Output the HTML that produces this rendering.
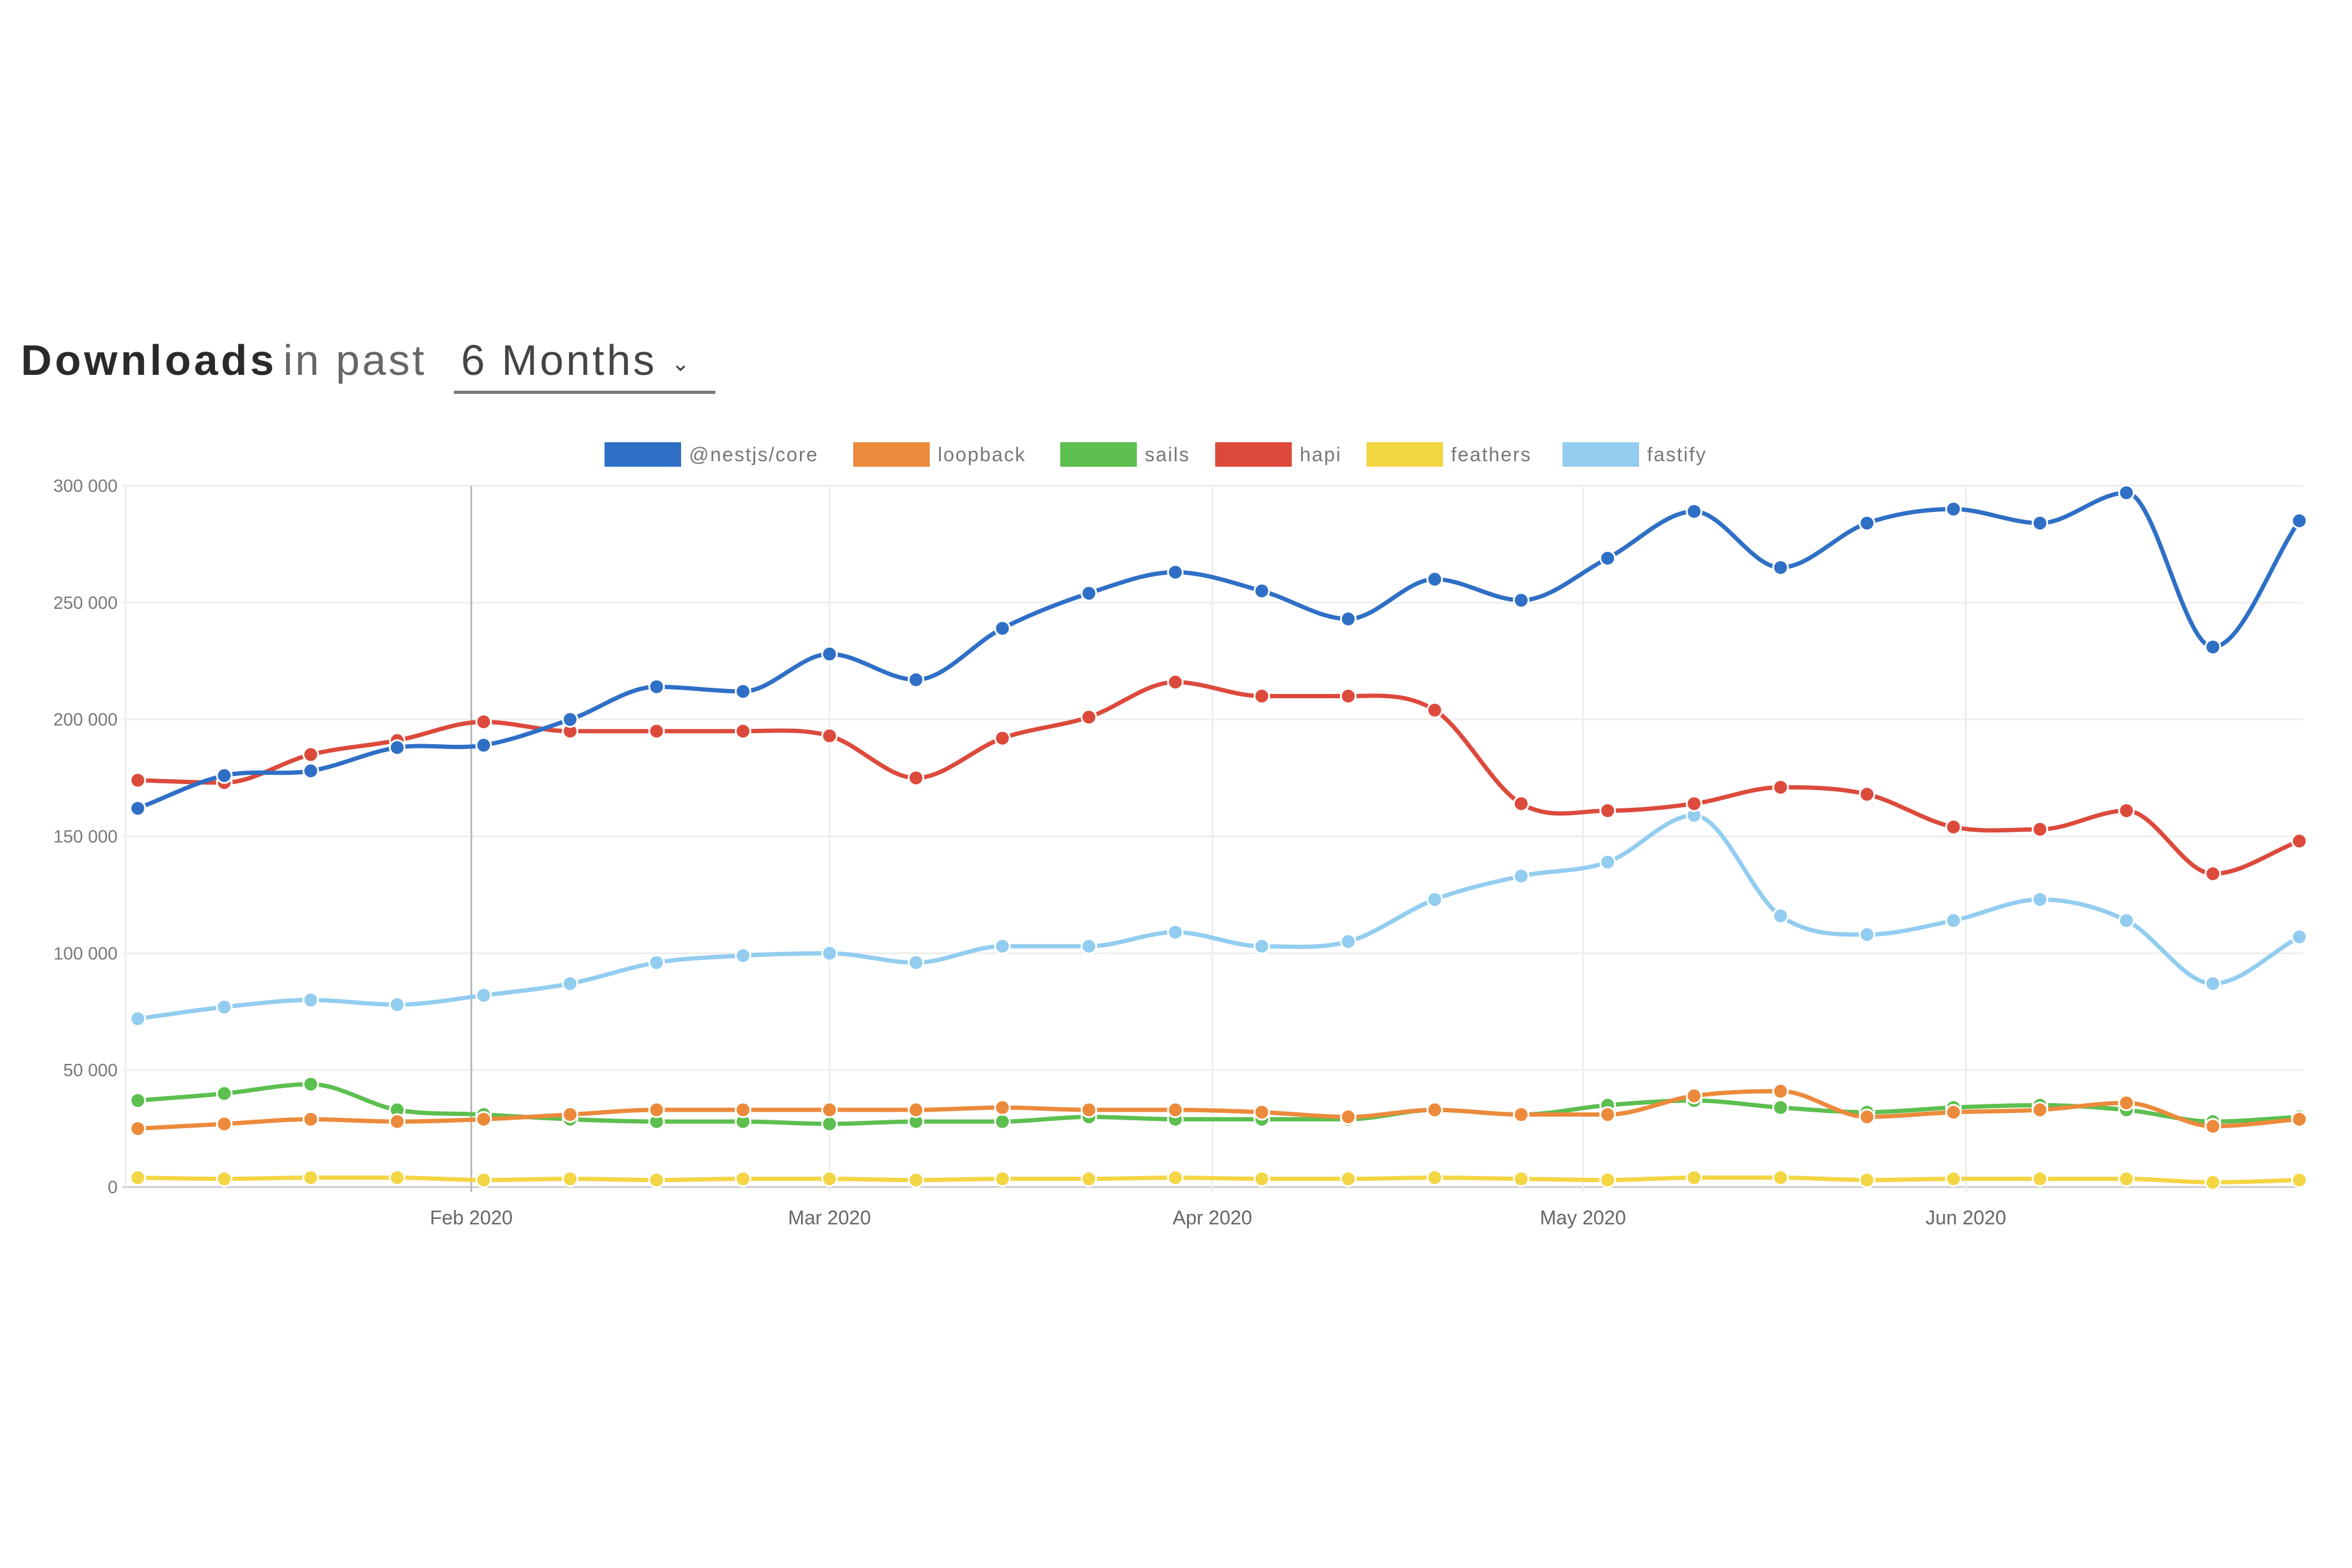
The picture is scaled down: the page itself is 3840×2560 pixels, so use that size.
<!DOCTYPE html>
<html><head><meta charset="utf-8">
<style>
html,body{margin:0;padding:0;background:#fff;}
body{width:3840px;height:2560px;overflow:hidden;position:relative;font-family:"Liberation Sans",sans-serif;}
#title{position:absolute;left:34px;top:548px;font-size:70px;color:#2a2a2a;white-space:nowrap;letter-spacing:4px;}
#title b{font-weight:bold;letter-spacing:5px;}
#title .lt{color:#666;margin-left:10px;}
#period{display:inline-block;margin-left:44px;padding:0 38px 10px 12px;border-bottom:5px solid #777;color:#444;}
svg{position:absolute;left:0;top:0;}
</style></head>
<body>
<div id="title"><b>Downloads</b><span class="lt">in past</span><span id="period">6 Months <span style="font-size:36px;vertical-align:middle">&#8964;</span></span></div>
<svg id="chart" width="3840" height="2560"></svg>
<script>
const seriesNames=["@nestjs/core","loopback","sails","hapi","feathers","fastify"];
const seriesColors=["#2f6fc6","#ec8a3c","#5cbf4f","#dc4a3c","#f4d544","#92cdef"];
const nestjs=[162,176,178,188,189,200,214,212,228,217,239,254,263,255,243,260,251,269,289,265,284,290,284,297,231,285];
const loopback=[25,27,29,28,29,31,33,33,33,33,34,33,33,32,30,33,31,31,39,41,30,32,33,36,26,29];
const sails=[37,40,44,33,31,29,28,28,27,28,28,30,29,29,29,33,31,35,37,34,32,34,35,33,28,30];
const hapi=[174,173,185,191,199,195,195,195,193,175,192,201,216,210,210,204,164,161,164,171,168,154,153,161,134,148];
const feathers=[4,3.5,4,4,3,3.5,3,3.5,3.5,3,3.5,3.5,4,3.5,3.5,4,3.5,3,4,4,3,3.5,3.5,3.5,2,3];
const fastify=[72,77,80,78,82,87,96,99,100,96,103,103,109,103,105,123,133,139,159,116,108,114,123,114,87,107];
const yTicks=[0,50000,100000,150000,200000,250000,300000];
const yTickLabels=["0","50 000","100 000","150 000","200 000","250 000","300 000"];
const monthLabels=["Feb 2020","Mar 2020","Apr 2020","May 2020","Jun 2020"];
const monthDays=[27,56,87,117,148]; // days since Jan 5 2020
const NS="http://www.w3.org/2000/svg";
const svg=document.getElementById('chart');
const X0=225,X1=3754,Y0=1938,Y1=793,NDAYS=175,YMAX=300000;
function xs(day){return X0+day*(X1-X0)/NDAYS;}
function ys(v){return Y0-v*(Y0-Y1)/YMAX;}
function mk(tag,attrs){const e=document.createElementNS(NS,tag);for(const k in attrs)e.setAttribute(k,attrs[k]);svg.appendChild(e);return e;}
yTicks.forEach((t,i)=>{
  const g=mk('line',{x1:200,x2:3760,y1:ys(t),y2:ys(t),stroke:i===0?'#ccc':'#eee','stroke-width':3});
  
  
  const tx=mk('text',{x:192,y:ys(t)+10,'text-anchor':'end','font-size':29,fill:'#777'});
  tx.textContent=yTickLabels[i];
  
  
});
const ax=mk('line',{x1:205,x2:205,y1:Y1,y2:Y0,stroke:'#eee','stroke-width':3});


monthDays.forEach((d,i)=>{
  const g=mk('line',{x1:xs(d),x2:xs(d),y1:Y1,y2:Y0+8,stroke:i===0?'#bbb':'#eee','stroke-width':3});
  
  
  const tx=mk('text',{x:xs(d),y:1999,'text-anchor':'middle','font-size':32,fill:'#666'});
  tx.textContent=monthLabels[i];
  
  
});
function pathFor(pts){
  const n=pts.length,m=[],d=[];
  for(let i=0;i<n-1;i++)d.push((pts[i+1][1]-pts[i][1])/(pts[i+1][0]-pts[i][0]));
  for(let i=0;i<n;i++){
    if(i===0)m.push(d[0]);else if(i===n-1)m.push(d[n-2]);
    else m.push(d[i-1]*d[i]<=0?0:(d[i-1]+d[i])/2);
  }
  let s='M'+pts[0][0]+','+pts[0][1];
  for(let i=0;i<n-1;i++){
    const h=(pts[i+1][0]-pts[i][0])/3;
    s+=' C'+(pts[i][0]+h)+','+(pts[i][1]+m[i]*h)+' '+(pts[i+1][0]-h)+','+(pts[i+1][1]-m[i+1]*h)+' '+pts[i+1][0]+','+pts[i+1][1];
  }
  return s;
}
const allSeries=[nestjs,loopback,sails,hapi,feathers,fastify];
const order=[4,2,1,5,3,0];
order.forEach(si=>{
  const vals=allSeries[si];
  const pts=vals.map((v,i)=>[xs(i*7),ys(v*1000)]);
  const p=mk('path',{d:pathFor(pts),fill:'none',stroke:seriesColors[si],'stroke-width':7});
  
  
  pts.forEach(pt=>{
    const c=mk('circle',{cx:pt[0],cy:pt[1],r:12,fill:seriesColors[si],stroke:'#fff','stroke-width':3});
    
    
  });
});
const legendX=[987,1393,1731,1984,2231,2551];
seriesNames.forEach((nm,i)=>{
  const r=mk('rect',{x:legendX[i],y:722,width:125,height:40,fill:seriesColors[i]});
  
  
  const t=mk('text',{x:legendX[i]+138,y:753,'font-size':32,fill:'#777','letter-spacing':2});
  t.textContent=nm;
  
  
});
</script>
</body></html>
